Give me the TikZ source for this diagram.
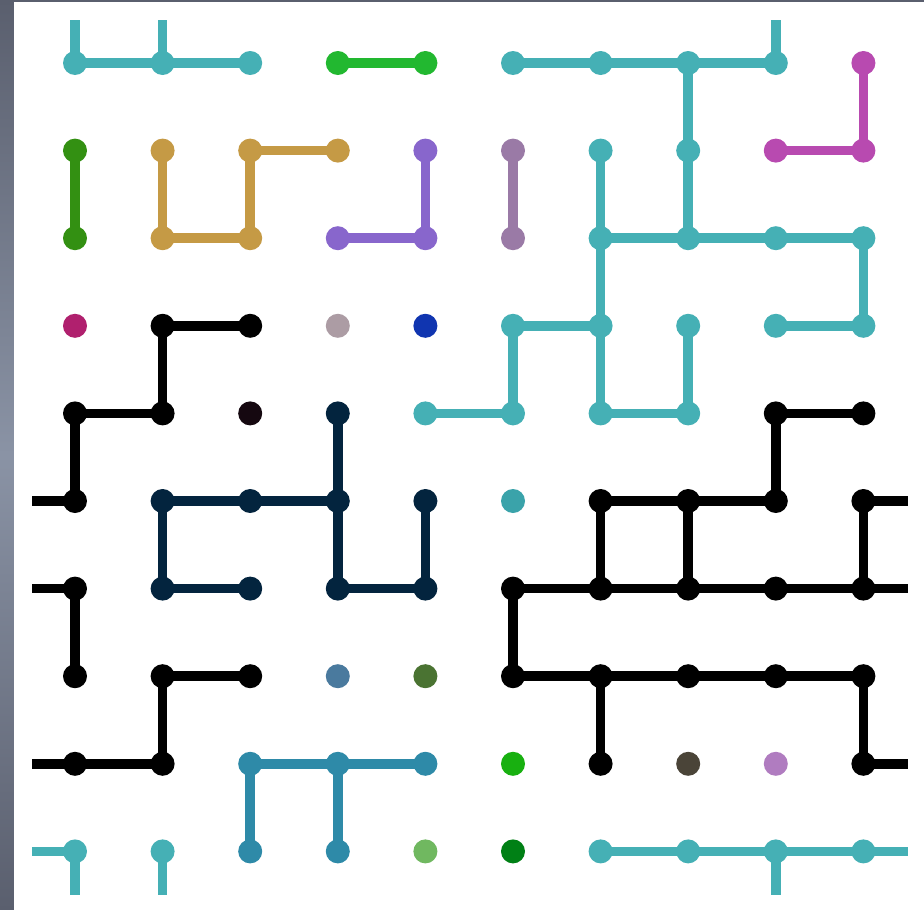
\documentclass[tikz,border=0pt]{standalone}
\pgfdeclarelayer{bg}
\pgfdeclarelayer{edges}
\pgfsetlayers{bg,edges,main}
\definecolor{tl}{HTML}{45B0B5}
\definecolor{tt}{HTML}{3AA3AA}
\definecolor{gr}{HTML}{22B830}
\definecolor{mg}{HTML}{B84AB0}
\definecolor{dg}{HTML}{339012}
\definecolor{gd}{HTML}{C59A45}
\definecolor{pu}{HTML}{8866CC}
\definecolor{mv}{HTML}{9A7AA6}
\definecolor{rm}{HTML}{B0206E}
\definecolor{gp}{HTML}{AC9CA4}
\definecolor{bl}{HTML}{1035B0}
\definecolor{dk}{HTML}{150810}
\definecolor{nv}{HTML}{03243E}
\definecolor{bk}{HTML}{000000}
\definecolor{sb}{HTML}{4A7A9E}
\definecolor{ol}{HTML}{4A7332}
\definecolor{cb}{HTML}{2E8AA8}
\definecolor{gg}{HTML}{18B010}
\definecolor{lg}{HTML}{70B860}
\definecolor{dgn}{HTML}{008015}
\definecolor{dgr}{HTML}{4A4438}
\definecolor{lv}{HTML}{B07CC0}
\definecolor{bgA}{HTML}{5A5F6E}
\definecolor{bgB}{HTML}{8A93A5}
\tikzset{
  dot/.style={circle, inner sep=0pt, outer sep=0pt, minimum size=24pt, draw=none},
  wire/.style={line width=9.5pt, line cap=butt, line join=miter}
}
\begin{document}
\begin{tikzpicture}[x=1pt, y=-1pt]
\begin{pgfonlayer}{bg}
\shade[top color=bgA, bottom color=bgA, middle color=bgB] (0,0) rectangle (924,910);
\fill[white] (14,2) rectangle (924,910);
\end{pgfonlayer}
\useasboundingbox (0,0) rectangle (924,910);
% dots
\foreach \r/\cols in {
 0/{tl,tl,tl,gr,gr,tl,tl,tl,tl,mg},
 1/{dg,gd,gd,gd,pu,mv,tl,tl,mg,mg},
 2/{dg,gd,gd,pu,pu,mv,tl,tl,tl,tl},
 3/{rm,bk,bk,gp,bl,tl,tl,tl,tl,tl},
 4/{bk,bk,dk,nv,tl,tl,tl,tl,bk,bk},
 5/{bk,nv,nv,nv,nv,tt,bk,bk,bk,bk},
 6/{bk,nv,nv,nv,nv,bk,bk,bk,bk,bk},
 7/{bk,bk,bk,sb,ol,bk,bk,bk,bk,bk},
 8/{bk,bk,cb,cb,cb,gg,bk,dgr,lv,bk},
 9/{tl,tl,cb,cb,lg,dgn,tl,tl,tl,tl}}{
  \foreach \col [count=\i from 0] in \cols {
    \node[dot, fill=\col] (p\i\r) at ({75+87.6*\i},{63+87.6*\r}) {};
  }
}
% stub ends (wrap-around connections)
\coordinate (u0) at ([yshift=43pt]p00.center);
\coordinate (u1) at ([yshift=43pt]p10.center);
\coordinate (u8) at ([yshift=43pt]p80.center);
\coordinate (d0) at ([yshift=-44pt]p09.center);
\coordinate (d1) at ([yshift=-44pt]p19.center);
\coordinate (d8) at ([yshift=-44pt]p89.center);
\foreach \r in {5,6,8,9}{
  \coordinate (l\r) at ([xshift=-43pt]p0\r.center);
  \coordinate (r\r) at ([xshift=45pt]p9\r.center);
}
\begin{pgfonlayer}{edges}
\foreach \a/\b/\col in {
 p00/p10/tl, p10/p20/tl, p50/p60/tl, p60/p70/tl, p70/p80/tl, p70/p71/tl, p71/p72/tl,
 p61/p62/tl, p62/p63/tl, p63/p64/tl, p62/p72/tl, p72/p82/tl, p82/p92/tl, p92/p93/tl,
 p83/p93/tl, p53/p63/tl, p53/p54/tl, p44/p54/tl, p64/p74/tl, p73/p74/tl,
 p69/p79/tl, p79/p89/tl, p89/p99/tl,
 p00/u0/tl, p10/u1/tl, p80/u8/tl, p09/d0/tl, p19/d1/tl, p89/d8/tl, p09/l9/tl, p99/r9/tl,
 p30/p40/gr, p90/p91/mg, p81/p91/mg, p01/p02/dg,
 p11/p12/gd, p12/p22/gd, p22/p21/gd, p21/p31/gd,
 p41/p42/pu, p32/p42/pu, p51/p52/mv,
 p13/p23/bk, p13/p14/bk, p04/p14/bk, p04/p05/bk, p84/p94/bk, p84/p85/bk,
 p65/p75/bk, p75/p85/bk, p65/p66/bk, p75/p76/bk, p95/p96/bk,
 p56/p66/bk, p66/p76/bk, p76/p86/bk, p86/p96/bk, p56/p57/bk, p06/p07/bk,
 p17/p27/bk, p17/p18/bk, p08/p18/bk, p57/p67/bk, p67/p77/bk, p77/p87/bk,
 p87/p97/bk, p67/p68/bk, p97/p98/bk,
 p05/l5/bk, p95/r5/bk, p06/l6/bk, p96/r6/bk, p08/l8/bk, p98/r8/bk,
 p34/p35/nv, p15/p25/nv, p25/p35/nv, p15/p16/nv, p16/p26/nv, p35/p36/nv,
 p36/p46/nv, p45/p46/nv,
 p28/p38/cb, p38/p48/cb, p28/p29/cb, p38/p39/cb}{
  \draw[wire, draw=\col] (\a.center) -- (\b.center);
}
\end{pgfonlayer}
\end{tikzpicture}
\end{document}
